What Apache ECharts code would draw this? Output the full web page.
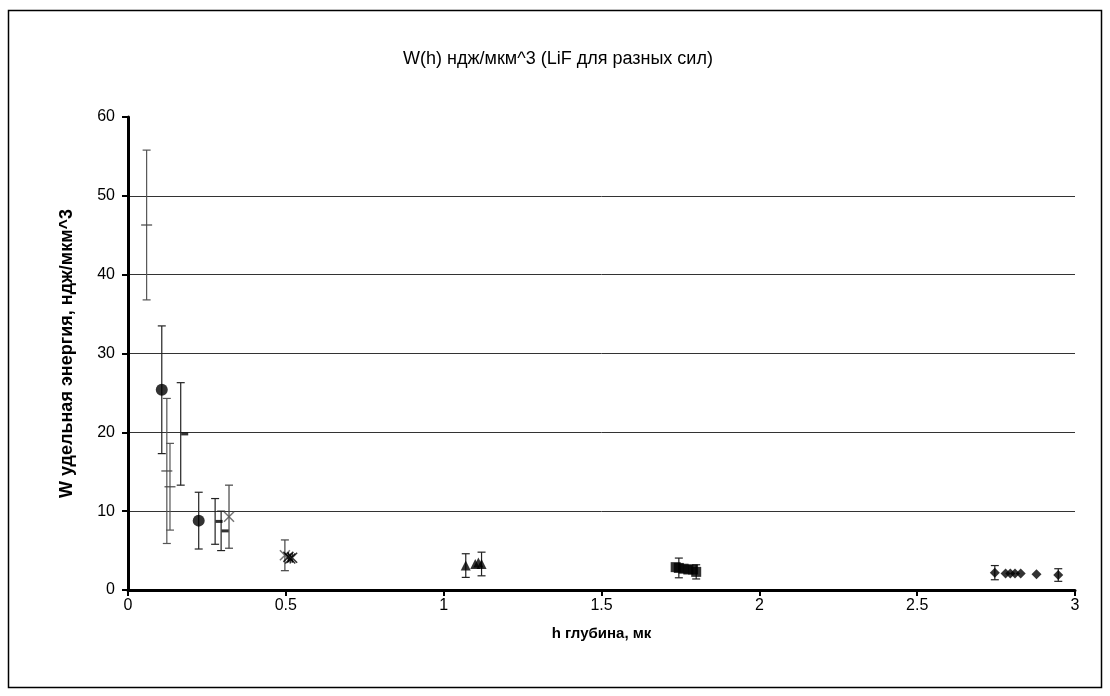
<!DOCTYPE html>
<html>
<head>
<meta charset="utf-8">
<script src="https://cdn.jsdelivr.net/npm/echarts@6/dist/echarts.min.js"></script>
<style>html,body{margin:0;padding:0;background:#fff}#c{width:1110px;height:696px}</style>
</head>
<body>
<div id="c"></div>
<script>
// ---- data ----
const titleText = 'W(h) ндж/мкм^3 (LiF для разных сил)';
const xName = 'h глубина, мк';
const yName = 'W удельная энергия, ндж/мкм^3';

const dashThinX = [0.059, 0.123, 0.133];
const dashThinY = [46.3, 15.1, 13.1];
const dashThinE = [9.5, 9.2, 5.5];

const dashThickX = [0.167, 0.276, 0.295];
const dashThickY = [19.8, 8.7, 7.5];
const dashThickE = [6.5, 2.9, 2.5];

const circleX = [0.107, 0.224];
const circleY = [25.4, 8.8];
const circleE = [8.1, 3.6];

const crossX = [0.32, 0.497];
const crossY = [9.3, 4.4];
const crossE = [4.0, 1.95];

const starX = [0.508, 0.514, 0.52];
const starY = [4.2, 4.0, 4.1];
const starE = [0, 0, 0];

const triX = [1.07, 1.10, 1.11, 1.12];
const triY = [3.1, 3.3, 3.5, 3.3];
const triE = [1.5, 0, 0, 1.5];

const sqX = [1.735, 1.745, 1.76, 1.775, 1.79, 1.80];
const sqY = [2.9, 2.8, 2.7, 2.6, 2.6, 2.3];
const sqE = [0, 1.25, 0, 0, 0, 0.9];

const diaX = [2.746, 2.78, 2.795, 2.81, 2.828, 2.878, 2.947];
const diaY = [2.2, 2.1, 2.1, 2.1, 2.1, 2.0, 1.9];
const diaE = [0.9, 0, 0, 0, 0, 0, 0.8];

const FONT = '"Liberation Sans", Arial, sans-serif';
const zip = (xs, ys, es) => xs.map((x, i) => [x, ys[i], es[i]]);

const groups = [
  { d: zip(dashThinX, dashThinY, dashThinE), symbol: 'rect', size: [11, 1.5], color: '#444', errColor: '#555' },
  { d: zip(dashThickX, dashThickY, dashThickE), symbol: 'rect', size: [7, 3], offset: [4, 0], color: '#000', errColor: '#222' },
  { d: zip(circleX, circleY, circleE), symbol: 'circle', size: 12, color: '#000', errColor: '#222' },
  { d: zip(crossX, crossY, crossE), symbol: 'path://M0,0 L10,10 M10,0 L0,10', size: 10, stroke: '#555', errColor: '#444' },
  { d: zip(starX, starY, starE), symbol: 'path://M0,0 L10,10 M10,0 L0,10 M5,0 L5,10', size: 10, stroke: '#000', errColor: '#222' },
  { d: zip(triX, triY, triE), symbol: 'triangle', size: 10, color: '#000', errColor: '#222' },
  { d: zip(sqX, sqY, sqE), symbol: 'rect', size: 10, color: '#000', errColor: '#222' },
  { d: zip(diaX, diaY, diaE), symbol: 'diamond', size: 10, color: '#000', errColor: '#222' }
];

function errRender(color) {
  return function (params, api) {
    const x = api.value(0), y = api.value(1), e = api.value(2);
    if (!e) return null;
    const t = api.coord([x, y + e]);
    const b = api.coord([x, y - e]);
    const w = 4;
    const st = { stroke: color, lineWidth: 1.2 };
    return {
      type: 'group',
      children: [
        { type: 'line', shape: { x1: t[0], y1: t[1], x2: b[0], y2: b[1] }, style: st },
        { type: 'line', shape: { x1: t[0] - w, y1: t[1], x2: t[0] + w, y2: t[1] }, style: st },
        { type: 'line', shape: { x1: b[0] - w, y1: b[1], x2: b[0] + w, y2: b[1] }, style: st }
      ]
    };
  };
}

const series = [];
groups.forEach(g => {
  series.push({
    type: 'custom',
    renderItem: errRender(g.errColor),
    data: g.d,
    encode: { x: 0, y: 1 },
    z: 2,
    silent: true
  });
});
groups.forEach(g => {
  series.push({
    type: 'scatter',
    data: g.d.map(p => [p[0], p[1]]),
    symbol: g.symbol,
    symbolSize: g.size,
    symbolOffset: g.offset || [0, 0],
    itemStyle: g.stroke
      ? { color: 'none', borderColor: g.stroke, borderWidth: 1.5 }
      : { color: g.color },
    z: 3,
    silent: true
  });
});

const chart = echarts.init(document.getElementById('c'), null, { renderer: 'canvas' });
chart.setOption({
  animation: false,
  backgroundColor: '#fff',
  title: {
    text: titleText,
    left: 553, top: 45, textAlign: 'center',
    textStyle: { fontFamily: FONT, fontSize: 18, fontWeight: 'normal', color: '#000' }
  },
  graphic: [{
    type: 'rect', shape: { x: 8.5, y: 10.5, width: 1093, height: 677 },
    style: { fill: 'none', stroke: '#000', lineWidth: 1.5 }, z: -1
  }],
  grid: { left: 128, right: 35, top: 117, bottom: 106 },
  xAxis: {
    type: 'value', min: 0, max: 3, interval: 0.5,
    name: xName, nameLocation: 'middle', nameGap: 36,
    nameTextStyle: { fontFamily: FONT, fontSize: 15, fontWeight: 'bold', color: '#000' },
    axisLine: { show: true, onZero: false, lineStyle: { color: '#000', width: 3 } },
    axisTick: { show: true, inside: false, length: 6, lineStyle: { color: '#000', width: 2 } },
    axisLabel: { fontFamily: FONT, fontSize: 16, color: '#000', margin: 8 },
    splitLine: { show: false }
  },
  yAxis: {
    type: 'value', min: 0, max: 60, interval: 10,
    name: yName, nameLocation: 'middle', nameGap: 52,
    nameTextStyle: { fontFamily: FONT, fontSize: 18, fontWeight: 'bold', color: '#000' },
    axisLine: { show: true, onZero: false, lineStyle: { color: '#000', width: 3 } },
    axisTick: { show: true, inside: false, length: 6, lineStyle: { color: '#000', width: 2 } },
    axisLabel: { fontFamily: FONT, fontSize: 16, color: '#000', margin: 13 },
    splitLine: { show: true, lineStyle: { color: ['#000', '#333', '#333', '#333', '#333', '#333', 'rgba(0,0,0,0)'], width: 1 } }
  },
  series: series
});
</script>
</body>
</html>
